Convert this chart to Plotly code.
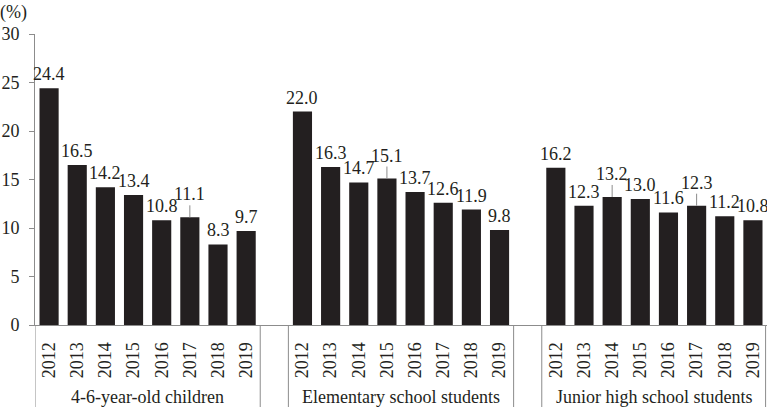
import plotly.graph_objects as go

# Data
years = ["2012", "2013", "2014", "2015", "2016", "2017", "2018", "2019"]
groups = ["4-6-year-old children", "Elementary school students", "Junior high school students"]
children = [24.4, 16.5, 14.2, 13.4, 10.8, 11.1, 8.3, 9.7]
elementary = [22.0, 16.3, 14.7, 15.1, 13.7, 12.6, 11.9, 9.8]
junior = [16.2, 12.3, 13.2, 13.0, 11.6, 12.3, 11.2, 10.8]
series = [children, elementary, junior]

# labels that sit higher with a small leader line: (group, year index)
leader = {(0, 5), (1, 3), (2, 2), (2, 5)}

BAR = "#231f20"
GREY = "#8c8c8c"
FONT = "Liberation Serif, Times New Roman, serif"
SIZE = 18
step = len(years) + 1

xs, ys, tickvals, ticktext = [], [], [], []
for g, vals in enumerate(series):
    for i, v in enumerate(vals):
        xs.append(g * step + i)
        ys.append(v)
        tickvals.append(g * step + i)
        ticktext.append(years[i])

fig = go.Figure()
fig.add_trace(go.Bar(x=xs, y=ys, width=0.68, marker=dict(color=BAR, line=dict(width=0)),
                     hoverinfo="skip"))

annotations = []
shapes = []
for g, vals in enumerate(series):
    for i, v in enumerate(vals):
        x = g * step + i
        if (g, i) in leader:
            shapes.append(dict(type="line", xref="x", yref="y", ysizemode="pixel", yanchor=v,
                               x0=x, x1=x, y0=0, y1=12, line=dict(color=GREY, width=1)))
            shift = 11
        else:
            shift = 2
        annotations.append(dict(x=x, y=v, text=f"{v:.1f}", showarrow=False, yanchor="bottom",
                                yshift=shift, font=dict(size=SIZE, color=BAR, family=FONT)))
    annotations.append(dict(x=g * step + 3.5, y=-0.248, xref="x", yref="paper", text=groups[g],
                            showarrow=False, yanchor="middle",
                            font=dict(size=SIZE, color=BAR, family=FONT)))

# group frame lines below the axis
for xv in [-0.5, 7.5, 8.5, 16.5, 17.5, 25.45]:
    shapes.append(dict(type="line", xref="x", yref="paper", x0=xv, x1=xv, y0=0, y1=-0.3,
                       line=dict(color=GREY, width=1)))

annotations.append(dict(x=0, y=1, xref="paper", yref="paper", text="(%)", showarrow=False,
                        xanchor="right", yanchor="bottom", xshift=-6, yshift=9,
                        font=dict(size=SIZE, color=BAR, family=FONT)))

fig.update_layout(
    width=767, height=407,
    margin=dict(l=35, r=0, t=34, b=82, autoexpand=False),
    plot_bgcolor="white", paper_bgcolor="white",
    showlegend=False,
    font=dict(family=FONT, size=SIZE, color=BAR),
    xaxis=dict(range=[-0.5, 25.5], tickvals=tickvals, ticktext=ticktext, tickangle=-90,
               showline=True, linecolor=GREY, linewidth=1, ticks="", showgrid=False,
               zeroline=False, ticklabelstandoff=9, fixedrange=True),
    yaxis=dict(range=[0, 30], dtick=5, showline=True, linecolor=GREY, linewidth=1,
               ticks="outside", ticklen=5, tickcolor=GREY, showgrid=False, zeroline=False,
               ticklabelstandoff=6, fixedrange=True),
    annotations=annotations,
    shapes=shapes,
)

fig.write_html("out.html", config={"displayModeBar": False},
               post_script="document.body.style.margin='0';")
